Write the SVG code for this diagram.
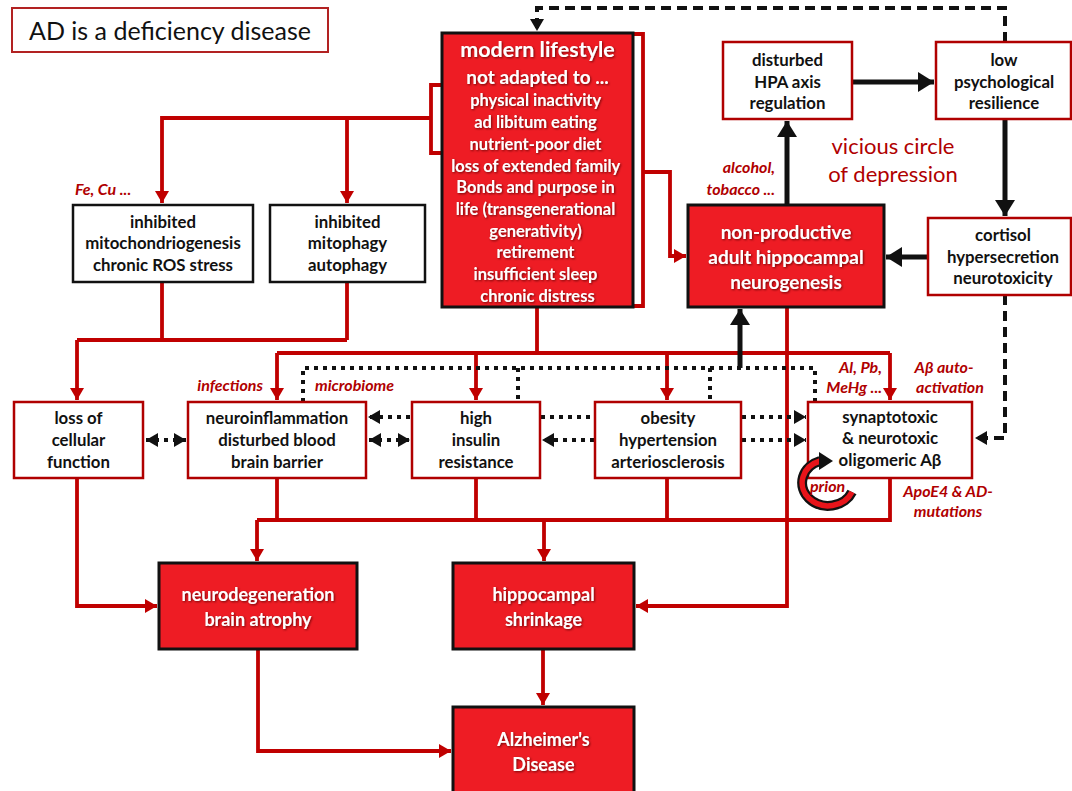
<svg xmlns="http://www.w3.org/2000/svg" width="1072" height="791" viewBox="0 0 1072 791">
<style>
.wb{fill:#fff;stroke:#b00000;stroke-width:2.5}
.kb{fill:#fff;stroke:#111;stroke-width:2.5}
.rb{fill:#ee1c24;stroke:#111;stroke-width:3}
.t{font-family:Lato,"Liberation Sans",sans-serif;font-weight:bold;font-size:16.8px;fill:#111;text-anchor:middle}
.w{font-family:Lato,"Liberation Sans",sans-serif;font-weight:bold;fill:#fff;text-anchor:middle;filter:url(#sh)}
.lab{font-family:Lato,"Liberation Sans",sans-serif;font-weight:bold;font-style:italic;font-size:16px;fill:#b00000}
.red{fill:none;stroke:#c00000;stroke-width:3.8}
.blk{fill:none;stroke:#111;stroke-width:5}
.dash{fill:none;stroke:#111;stroke-width:4;stroke-dasharray:10 6}
.dot{fill:none;stroke:#111;stroke-width:4;stroke-dasharray:4 5}
</style>
<defs>
<filter id="sh" x="-10%" y="-20%" width="120%" height="140%"><feDropShadow dx="1" dy="1" stdDeviation="0.8" flood-color="#500" flood-opacity="0.8"/></filter>
<marker id="ar" markerUnits="userSpaceOnUse" markerWidth="14" markerHeight="14" refX="12" refY="7" orient="auto"><path d="M0,0 L12,7 L0,14 z" fill="#c00000"/></marker>
<marker id="ak" markerUnits="userSpaceOnUse" markerWidth="20" markerHeight="20" refX="16" refY="10" orient="auto"><path d="M0,0 L16,10 L0,20 z" fill="#111"/></marker>
<marker id="ad" markerUnits="userSpaceOnUse" markerWidth="14" markerHeight="14" refX="12" refY="7" orient="auto-start-reverse"><path d="M0,0 L12,7 L0,14 z" fill="#111"/></marker>
</defs>
<rect width="1072" height="791" fill="#fff"/>

<g id="connectors">
<path class="red" d="M442 85 H431 V153 H442"/>
<path class="red" d="M431 118 H162 V203" marker-end="url(#ar)"/>
<path class="red" d="M347 118 V203" marker-end="url(#ar)"/>
<path class="red" d="M633 34 H643 V306 H633"/>
<path class="red" d="M643 172 H670 V256 H686" marker-end="url(#ar)"/>
<path class="red" d="M162 282 V340 M347 282 V340 M77 340 H347"/>
<path class="red" d="M77 340 V400" marker-end="url(#ar)"/>
<path class="red" d="M537 307 V353 M277 353 H890"/>
<path class="red" d="M277 353 V400" marker-end="url(#ar)"/>
<path class="red" d="M476 353 V400" marker-end="url(#ar)"/>
<path class="red" d="M667 353 V400" marker-end="url(#ar)"/>
<path class="red" d="M890 353 V400" marker-end="url(#ar)"/>
<path class="red" d="M787 307 V606 H636" marker-end="url(#ar)"/>
<path class="red" d="M77 478 V606 H157" marker-end="url(#ar)"/>
<path class="red" d="M277 478 V520 M476 478 V520 M667 478 V520 M257 520 H890 V478"/>
<path class="red" d="M257 520 V561" marker-end="url(#ar)"/>
<path class="red" d="M544 520 V561" marker-end="url(#ar)"/>
<path class="red" d="M543 649 V705" marker-end="url(#ar)"/>
<path class="red" d="M258 649 V751 H451" marker-end="url(#ar)"/>
<path class="blk" d="M787 205 V121" marker-end="url(#ak)"/>
<path class="blk" d="M852 82 H934" marker-end="url(#ak)"/>
<path class="blk" d="M1005 119 V216" marker-end="url(#ak)"/>
<path class="blk" d="M928 257 H886" marker-end="url(#ak)"/>
<path class="blk" d="M740 368 V309" marker-end="url(#ak)"/>
<path class="dash" d="M1005 42 V8 H537 V31" marker-end="url(#ad)"/>
<path class="dash" d="M1005 295 V438 H975" marker-end="url(#ad)"/>
<path class="dot" d="M303 402 V368 H815 V402 M518 368 V402 M710 368 V402"/>
<path class="dot" d="M146 440 H186" marker-start="url(#ad)" marker-end="url(#ad)"/>
<path class="dot" d="M410 417 H368" marker-end="url(#ad)"/>
<path class="dot" d="M369 440 H410" marker-start="url(#ad)" marker-end="url(#ad)"/>
<path class="dot" d="M541 417 H595"/>
<path class="dot" d="M594 440 H542" marker-end="url(#ad)"/>
<path class="dot" d="M742 417 H806" marker-end="url(#ad)"/>
<path class="dot" d="M742 440 H806" marker-end="url(#ad)"/>
</g>

<g id="title">
<rect x="12" y="8" width="316" height="44" fill="#fff" stroke="#b22222" stroke-width="2"/>
<text x="170" y="40" font-family="Lato,'Liberation Sans',sans-serif" font-size="25" fill="#111" text-anchor="middle">AD is a deficiency disease</text>
</g>

<g id="modern-lifestyle">
<rect class="rb" x="442" y="33" width="191" height="274"/>
<text class="w" x="537.5" y="57" font-size="21.5">modern lifestyle</text>
<text class="w" x="537.5" y="84" font-size="19">not adapted to ...</text>
<text class="w" font-size="16.5">
<tspan x="537.5" y="106">physical inactivity</tspan>
<tspan x="537.5" y="128">ad libitum eating</tspan>
<tspan x="537.5" y="150">nutrient-poor diet</tspan>
<tspan x="537.5" y="172">loss of extended family</tspan>
<tspan x="537.5" y="193">Bonds and purpose in</tspan>
<tspan x="537.5" y="215">life (transgenerational</tspan>
<tspan x="537.5" y="237">generativity)</tspan>
<tspan x="537.5" y="258">retirement</tspan>
<tspan x="537.5" y="280">insufficient sleep</tspan>
<tspan x="537.5" y="302">chronic distress</tspan>
</text>
</g>

<g id="mitochondriogenesis">
<rect class="kb" x="73" y="205" width="180" height="77"/>
<text class="t"><tspan x="163" y="228">inhibited</tspan><tspan x="163" y="249">mitochondriogenesis</tspan><tspan x="163" y="271">chronic ROS stress</tspan></text>
</g>
<g id="mitophagy">
<rect class="kb" x="270" y="205" width="155" height="77"/>
<text class="t"><tspan x="347.5" y="228">inhibited</tspan><tspan x="347.5" y="249">mitophagy</tspan><tspan x="347.5" y="271">autophagy</tspan></text>
</g>
<text class="lab" x="75" y="195">Fe, Cu ...</text>

<g id="hpa">
<rect class="wb" x="723" y="42" width="129" height="77"/>
<text class="t"><tspan x="787.5" y="66">disturbed</tspan><tspan x="787.5" y="88">HPA axis</tspan><tspan x="787.5" y="109">regulation</tspan></text>
</g>
<g id="resilience">
<rect class="wb" x="936" y="42" width="135" height="77"/>
<text class="t"><tspan x="1004" y="66">low</tspan><tspan x="1004" y="88">psychological</tspan><tspan x="1004" y="109">resilience</tspan></text>
</g>
<g id="cortisol">
<rect class="wb" x="928" y="218" width="143" height="77"/>
<text class="t"><tspan x="1003" y="241">cortisol</tspan><tspan x="1003" y="263">hypersecretion</tspan><tspan x="1003" y="284">neurotoxicity</tspan></text>
</g>
<g id="neurogenesis">
<rect class="rb" x="688" y="205" width="196" height="102"/>
<text class="w" font-size="19"><tspan x="786" y="239">non-productive</tspan><tspan x="786" y="264">adult hippocampal</tspan><tspan x="786" y="289">neurogenesis</tspan></text>
</g>
<text x="893" y="154" font-family="Lato,'Liberation Sans',sans-serif" font-size="22" fill="#b00000" text-anchor="middle">vicious circle</text>
<text x="893" y="182" font-family="Lato,'Liberation Sans',sans-serif" font-size="22" fill="#b00000" text-anchor="middle">of depression</text>
<text class="lab" text-anchor="end"><tspan x="775" y="173">alcohol,</tspan><tspan x="775" y="195">tobacco ...</tspan></text>

<g id="loss">
<rect class="wb" x="14" y="402" width="129" height="76"/>
<text class="t"><tspan x="78.5" y="424">loss of</tspan><tspan x="78.5" y="446">cellular</tspan><tspan x="78.5" y="468">function</tspan></text>
</g>
<g id="neuroinflammation">
<rect class="wb" x="188" y="402" width="178" height="76"/>
<text class="t"><tspan x="277" y="424">neuroinflammation</tspan><tspan x="277" y="446">disturbed blood</tspan><tspan x="277" y="468">brain barrier</tspan></text>
</g>
<g id="insulin">
<rect class="wb" x="412" y="402" width="128" height="76"/>
<text class="t"><tspan x="476" y="424">high</tspan><tspan x="476" y="446">insulin</tspan><tspan x="476" y="468">resistance</tspan></text>
</g>
<g id="obesity">
<rect class="wb" x="595" y="402" width="146" height="76"/>
<text class="t"><tspan x="668" y="424">obesity</tspan><tspan x="668" y="446">hypertension</tspan><tspan x="668" y="468">arteriosclerosis</tspan></text>
</g>
<g id="abeta">
<rect class="wb" x="808" y="402" width="164" height="76"/>
<text class="t"><tspan x="890" y="423">synaptotoxic</tspan><tspan x="890" y="444">&amp; neurotoxic</tspan><tspan x="890" y="466">oligomeric Aβ</tspan></text>
<path d="M852 492 A26 23 0 1 1 820 461" fill="none" stroke="#111" stroke-width="10"/>
<path d="M852 492 A26 23 0 1 1 820 461" fill="none" stroke="#e8141a" stroke-width="5.5"/>
<path d="M819 452 L833 461 L819 470 z" fill="#111"/>
</g>
<text class="lab" x="810" y="492">prion</text>
<text class="lab" x="263" y="391" text-anchor="end">infections</text>
<text class="lab" x="315" y="391">microbiome</text>
<text class="lab" text-anchor="end"><tspan x="882" y="373">Al, Pb,</tspan><tspan x="882" y="393">MeHg ...</tspan></text>
<text class="lab" text-anchor="middle"><tspan x="944" y="373">Aβ auto-</tspan><tspan x="950" y="393">activation</tspan></text>
<text class="lab" text-anchor="middle"><tspan x="948" y="497">ApoE4 &amp; AD-</tspan><tspan x="948" y="517">mutations</tspan></text>

<g id="neurodegeneration">
<rect class="rb" x="159" y="563" width="198" height="86"/>
<text class="w" font-size="18"><tspan x="258" y="601">neurodegeneration</tspan><tspan x="258" y="626">brain atrophy</tspan></text>
</g>
<g id="shrinkage">
<rect class="rb" x="453" y="563" width="181" height="86"/>
<text class="w" font-size="18"><tspan x="543.5" y="601">hippocampal</tspan><tspan x="543.5" y="626">shrinkage</tspan></text>
</g>
<g id="alzheimers">
<rect class="rb" x="453" y="707" width="181" height="90"/>
<text class="w" font-size="18"><tspan x="543.5" y="746">Alzheimer's</tspan><tspan x="543.5" y="771">Disease</tspan></text>
</g>
</svg>
